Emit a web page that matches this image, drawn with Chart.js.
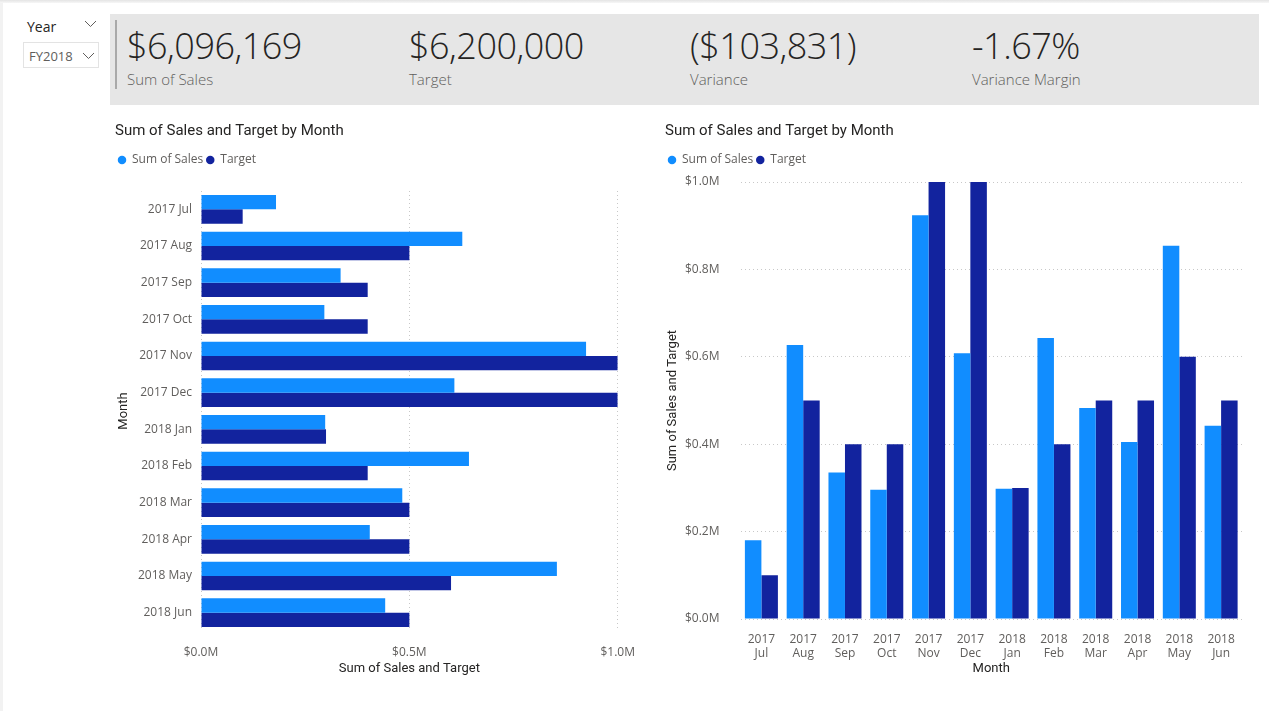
<!DOCTYPE html>
<html>
<head>
<meta charset="utf-8">
<title>Sales vs Target</title>
<script src="https://cdn.jsdelivr.net/npm/chart.js@4.4.1/dist/chart.umd.min.js"></script>
<style>
  body { margin: 0; width: 1269px; height: 711px; background: #fff; position: relative; overflow: hidden; font-family: 'Segoe UI', 'Open Sans', sans-serif; }
  .topline { position: absolute; left: 0; top: 0; width: 1269px; height: 3px; background: linear-gradient(#e4e4e4, #f7f7f7); }
  .leftline { position: absolute; left: 0; top: 3px; width: 3px; height: 708px; background: #f2f2f2; }
  .slicer-title { position: absolute; left: 27px; top: 17px; font-size: 14px; color: #252423; }
  .slicer-box { position: absolute; left: 23px; top: 42px; width: 76px; height: 26px; border: 1px solid #e3e3e3; box-sizing: border-box; }
  .slicer-box span { position: absolute; left: 5px; top: 4px; font-size: 13px; color: #605E5C; }
  .chev { position: absolute; }
  .kpi { position: absolute; left: 110px; top: 14px; width: 1149px; height: 91px; background: #e6e6e6; }
  .kpi .sep { position: absolute; left: 5px; top: 6px; width: 2px; height: 69px; background: #a9a9a9; }
  .card { position: absolute; top: 0; }
  .card .val { position: absolute; left: 0; top: 10px; font-size: 36px; line-height: 44px; font-weight: 300; color: #252423; white-space: nowrap; letter-spacing: -0.5px; }
  .card .lab { position: absolute; left: 0; top: 54px; font-size: 15px; line-height: 22px; font-weight: 300; color: #605E5C; white-space: nowrap; }
  canvas { position: absolute; }
</style>
</head>
<body>
<div class="topline"></div>
<div class="leftline"></div>

<div class="slicer-title">Year</div>
<svg class="chev" style="left:84px;top:20px" width="13" height="8"><polyline points="1,1 6.5,6.5 12,1" fill="none" stroke="#605E5C" stroke-width="1"/></svg>
<div class="slicer-box"><span>FY2018</span></div>
<svg class="chev" style="left:82px;top:52px" width="13" height="8"><polyline points="1,1 6.5,6.5 12,1" fill="none" stroke="#605E5C" stroke-width="1"/></svg>

<div class="kpi">
  <div class="sep"></div>
  <div class="card" style="left:17px"><div class="val" id="k0"></div><div class="lab" id="l0"></div></div>
  <div class="card" style="left:299px"><div class="val" id="k1"></div><div class="lab" id="l1"></div></div>
  <div class="card" style="left:580px"><div class="val" id="k2"></div><div class="lab" id="l2"></div></div>
  <div class="card" style="left:862px"><div class="val" id="k3"></div><div class="lab" id="l3"></div></div>
</div>

<canvas id="barH" width="530" height="580" style="left:108px;top:115px"></canvas>
<canvas id="barV" width="604" height="580" style="left:658px;top:115px"></canvas>

<script>
const months = ['2017 Jul', '2017 Aug', '2017 Sep', '2017 Oct', '2017 Nov', '2017 Dec',
    '2018 Jan', '2018 Feb', '2018 Mar', '2018 Apr', '2018 May', '2018 Jun'];
const sales = [180000, 627000, 335000, 296000, 924000, 608000, 298000, 643000, 483000, 405000, 854000, 442000];
const target = [100000, 500000, 400000, 400000, 1000000, 1000000, 300000, 400000, 500000, 500000, 600000, 500000];
const kpiValues = ['$6,096,169', '$6,200,000', '($103,831)', '-1.67%'];
const kpiLabels = ['Sum of Sales', 'Target', 'Variance', 'Variance Margin'];
const hTicks = [0, 500000, 1000000];
const vTicks = [0, 200000, 400000, 600000, 800000, 1000000];

const salesColor = '#118DFF';
const targetColor = '#12239E';
const chartTitle = 'Sum of Sales and Target by Month';
const titleFont = "Roboto, 'DejaVu Sans', sans-serif";

kpiValues.forEach((v, i) => {
    document.getElementById('k' + i).textContent = v;
    document.getElementById('l' + i).textContent = kpiLabels[i];
});

Chart.defaults.font.family = "'Segoe UI', 'Open Sans', sans-serif";
Chart.defaults.font.size = 12;
Chart.defaults.color = '#605E5C';

const fmtM = v => '$' + (v / 1e6).toFixed(1) + 'M';

const datasets = (pct) => [{
    label: 'Sum of Sales',
    data: sales,
    backgroundColor: salesColor,
    categoryPercentage: pct,
    barPercentage: 1
}, {
    label: 'Target',
    data: target,
    backgroundColor: targetColor,
    categoryPercentage: pct,
    barPercentage: 1
}];

const plugins = {
    title: {
        display: true,
        text: chartTitle,
        align: 'start',
        color: '#252423',
        font: { family: titleFont, size: 15, weight: 'normal' },
        padding: { top: 7, bottom: 11 }
    },
    legend: {
        display: true,
        align: 'start',
        labels: {
            usePointStyle: true,
            pointStyle: 'circle',
            boxWidth: 8,
            boxHeight: 6,
            padding: 3,
            color: '#605E5C',
            font: { size: 12 }
        }
    },
    tooltip: { enabled: false }
};

// empty top axis, only used to push the plot area down under the legend
const spacer = h => ({
    type: 'linear',
    position: 'top',
    display: true,
    grid: { display: false },
    border: { display: false },
    ticks: { display: false },
    afterFit: s => { s.height = h; }
});

const axisTitle = (text, pad) => ({
    display: true,
    text: text,
    color: '#252423',
    font: { family: titleFont, size: 13, weight: 'normal' },
    padding: pad
});

new Chart(document.getElementById('barH'), {
    type: 'bar',
    data: {
        labels: months,
        datasets: datasets(0.78).map(d => ({ ...d, xAxisID: 'x', yAxisID: 'y' }))
    },
    options: {
        indexAxis: 'y',
        responsive: false,
        animation: false,
        layout: { padding: { left: 7, right: 12, top: 0, bottom: 18 } },
        plugins: plugins,
        scales: {
            x: {
                min: 0,
                max: 1000000,
                afterBuildTicks: s => { s.ticks = hTicks.map(v => ({ value: v })); },
                ticks: { callback: fmtM, padding: 3, color: '#605E5C' },
                grid: { color: '#c8c8c8', drawTicks: true, tickLength: 11, tickColor: 'rgba(0,0,0,0)' },
                border: { display: false, dash: [1, 3] },
                title: axisTitle('Sum of Sales and Target', { top: 0, bottom: 0 }),
                afterFit: s => { s.height = 46; }
            },
            y: {
                ticks: { autoSkip: false, padding: 9, color: '#605E5C' },
                grid: { display: false, drawTicks: false },
                border: { display: false },
                title: axisTitle('Month', { top: 1, bottom: 0 }),
                afterFit: s => { s.width = 86; }
            },
            pad: spacer(15)
        }
    }
});

new Chart(document.getElementById('barV'), {
    type: 'bar',
    data: {
        labels: months,
        datasets: datasets(0.79).map(d => ({ ...d, xAxisID: 'x', yAxisID: 'y' }))
    },
    options: {
        responsive: false,
        animation: false,
        layout: { padding: { left: 7, right: 20, top: 0, bottom: 18 } },
        plugins: plugins,
        scales: {
            x: {
                ticks: {
                    autoSkip: false,
                    maxRotation: 0,
                    padding: 13,
                    color: '#605E5C',
                    callback: function (value) { return this.getLabelForValue(value).split(' '); }
                },
                grid: { display: false, drawTicks: false },
                border: { display: false },
                title: axisTitle('Month', { top: 0, bottom: 0 }),
                afterFit: s => { s.height = 58; }
            },
            y: {
                min: 0,
                max: 1000000,
                afterBuildTicks: s => { s.ticks = vTicks.map(v => ({ value: v })); },
                ticks: { callback: fmtM, padding: 21, color: '#605E5C' },
                grid: { color: '#c8c8c8', drawTicks: false },
                border: { display: false, dash: [1, 3] },
                title: axisTitle('Sum of Sales and Target', { top: 0, bottom: 0 }),
                afterFit: s => { s.width = 75.5; }
            },
            pad: spacer(6)
        }
    }
});
</script>
</body>
</html>
